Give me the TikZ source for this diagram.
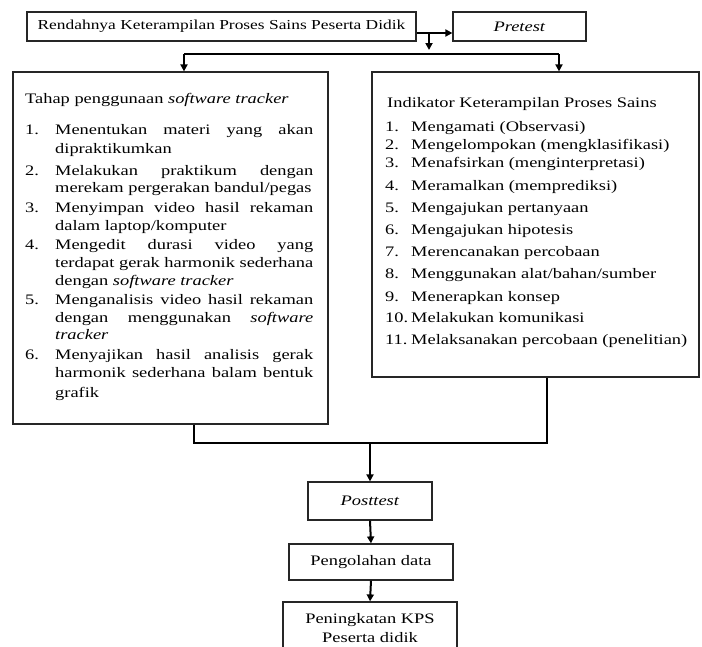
\documentclass[tikz,border=0pt]{standalone}
\usepackage{fontspec}
\setmainfont{Liberation Serif}[FakeStretch=1.27]
\usetikzlibrary{arrows.meta}
\newcommand{\J}[1]{\makebox[258pt][s]{#1}}
\begin{document}
\begin{tikzpicture}[x=1pt,y=-1pt,
  every node/.style={font=\fontsize{14.5}{18}\selectfont},
  box/.style={draw=black!85, line width=1.2pt, inner sep=0pt},
  conn/.style={line width=2pt, black},
  tip/.style={-{Triangle[length=7pt,width=7pt]}},
  ln/.style={anchor=base west, inner sep=0pt},
]
\useasboundingbox (0,0) rectangle (702,646);
\clip (0,0) rectangle (702,646);

% boxes
\node[box, minimum width=389pt, minimum height=29pt, font=\fontsize{13.7}{16}\selectfont] (top) at (221.5,26.5)
  {Rendahnya Keterampilan Proses Sains Peserta Didik};
\node[box, minimum width=133pt, minimum height=29pt] (pre) at (519.5,26.5) {\textit{Pretest}};
\node[box, minimum width=315pt, minimum height=352pt] (left) at (170.5,248) {};
\node[box, minimum width=327pt, minimum height=305pt] (right) at (535.5,224.5) {};
\node[box, minimum width=124pt, minimum height=38pt] (post) at (370,501) {\textit{Posttest}};
\node[box, minimum width=164pt, minimum height=36pt] (olah) at (371,562) {Pengolahan data};
\node[box, minimum width=174pt, minimum height=63pt] (ningkat) at (370,633.5) {};
\node[inner sep=0pt, align=center, font=\fontsize{14.5}{19}\selectfont] (ningkattxt) at (370,628.5)
  {Peningkatan KPS\\Peserta didik};

% left box text
\node[ln] (l0) at (25,103) {Tahap penggunaan \textit{software tracker}};
\node[ln] (n1) at (25,134) {1.};
\node[ln] (l1a) at (55,134) {\J{Menentukan materi yang akan}};
\node[ln] (l1b) at (55,153) {dipraktikumkan};
\node[ln] (n2) at (25,175) {2.};
\node[ln] (l2a) at (55,175) {\J{Melakukan praktikum dengan}};
\node[ln] (l2b) at (55,192) {merekam pergerakan bandul/pegas};
\node[ln] (n3) at (25,212) {3.};
\node[ln] (l3a) at (55,212) {\J{Menyimpan video hasil rekaman}};
\node[ln] (l3b) at (55,230) {dalam laptop/komputer};
\node[ln] (n4) at (25,249) {4.};
\node[ln] (l4a) at (55,249) {\J{Mengedit durasi video yang}};
\node[ln] (l4b) at (55,267) {\J{terdapat gerak harmonik sederhana}};
\node[ln] (l4c) at (55,285) {dengan \textit{software tracker}};
\node[ln] (n5) at (25,304) {5.};
\node[ln] (l5a) at (55,304) {\J{Menganalisis video hasil rekaman}};
\node[ln] (l5b) at (55,322) {\J{dengan menggunakan \textit{software}}};
\node[ln] (l5c) at (55,339) {\textit{tracker}};
\node[ln] (n6) at (25,359) {6.};
\node[ln] (l6a) at (55,359) {\J{Menyajikan hasil analisis gerak}};
\node[ln] (l6b) at (55,377) {\J{harmonik sederhana balam bentuk}};
\node[ln] (l6c) at (55,397) {grafik};

% right box text
\node[ln] (r0) at (387,107) {Indikator Keterampilan Proses Sains};
\node[ln] (m1) at (385,131) {1.};
\node[ln] (r1) at (411,131) {Mengamati (Observasi)};
\node[ln] (m2) at (385,149) {2.};
\node[ln] (r2) at (411,149) {Mengelompokan (mengklasifikasi)};
\node[ln] (m3) at (385,167) {3.};
\node[ln] (r3) at (411,167) {Menafsirkan (menginterpretasi)};
\node[ln] (m4) at (385,190) {4.};
\node[ln] (r4) at (411,190) {Meramalkan (memprediksi)};
\node[ln] (m5) at (385,212) {5.};
\node[ln] (r5) at (411,212) {Mengajukan pertanyaan};
\node[ln] (m6) at (385,234) {6.};
\node[ln] (r6) at (411,234) {Mengajukan hipotesis};
\node[ln] (m7) at (385,256) {7.};
\node[ln] (r7) at (411,256) {Merencanakan percobaan};
\node[ln] (m8) at (385,278) {8.};
\node[ln] (r8) at (411,278) {Menggunakan alat/bahan/sumber};
\node[ln] (m9) at (385,301) {9.};
\node[ln] (r9) at (411,301) {Menerapkan konsep};
\node[ln] (m10) at (385,322) {10.};
\node[ln] (r10) at (411,322) {Melakukan komunikasi};
\node[ln] (m11) at (385,344) {11.};
\node[ln] (r11) at (411,344) {Melaksanakan percobaan (penelitian)};

% connector coordinates
\coordinate (a0) at (429,33);
\coordinate (a1) at (429,50);
\coordinate (bL) at (184,54);
\coordinate (bR) at (559,54);
\coordinate (cL) at (194,443);
\coordinate (cR) at (547,443);

% connectors
\draw[conn, tip] (top.east |- a0) -- (pre.west |- a0);
\draw[conn, tip] (a0) -- (a1);
\draw[conn] (bL) -- (bR);
\draw[conn, tip] (bL) -- (bL |- left.north);
\draw[conn, tip] (bR) -- (bR |- right.north);
\draw[conn] (cL |- left.south) -- (cL) -- (cR) -- (cR |- right.south);
\draw[conn, tip] (post.north |- cL) -- (post.north);
\draw[conn, tip] (post.south) -- (olah.north);
\draw[conn, tip] (olah.south) -- (ningkat.north);
\end{tikzpicture}
\end{document}
